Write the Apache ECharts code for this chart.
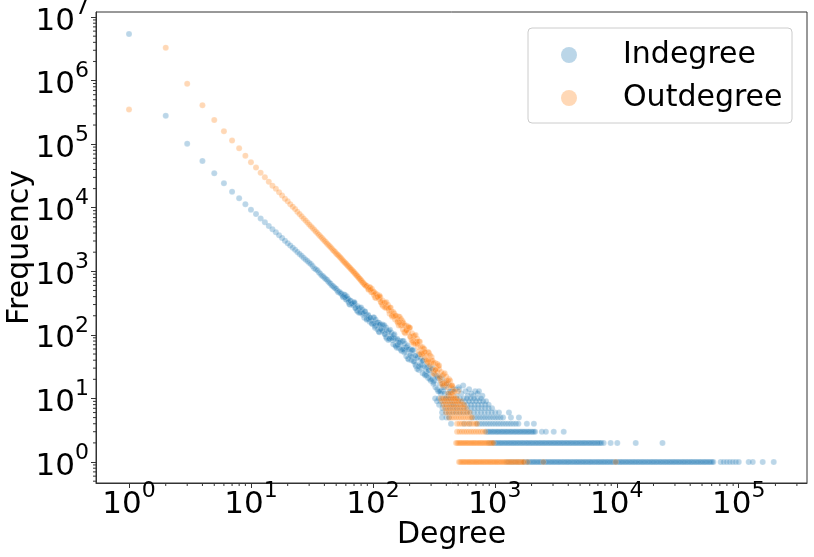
<!DOCTYPE html>
<html>
<head>
<meta charset="utf-8">
<script src="https://cdn.jsdelivr.net/npm/echarts@6/dist/echarts.min.js"></script>
<style>
html,body{margin:0;padding:0;background:#fff}
#main{width:814px;height:557px}
</style>
</head>
<body>
<div id="main"></div>
<script type="text/javascript">

// ---- Indegree (blue) ----
var inHead = [[1,5400000],[2,280000],[3,102000],[4,54500],[5,34900],[6,24300],[7,17900],[8,14100],[9,11400],[10,9300],
	[11,7950],[12,6800],[13,5890],[14,5180],[15,4590],[16,4100],[17,3690],[18,3340],[19,3030],[20,2770],
	[21,2550],[22,2350],[23,2180],[24,2020],[25,1880],[26,1750],[27,1640],[28,1540],[29,1450],[30,1360],
	[31,1300],[32,1210],[33,1120],[34,1080],[35,1040],[36,970],[37,915],[38,860],[39,835],[40,794],[41,760],[42,735],[43,690],[44,664],
	[45,640],[46,598],[47,585],[48,562],[49,540],[50,530],[51,500],[52,470],[53,478],[54,455]];
var inCloud = [[55,449],[57,390],[59,423],[61,361],[63,365],[65,299],[68,313],[70,316],[72,262],[75,234],
	[78,265],[80,230],[83,207],[86,234],[89,173],[92,198],[95,185],[99,148],[102,187],[106,142],
	[110,155],[113,110],[117,128],[122,138],[126,102],[130,88],[135,115],[140,94],[145,82],[150,102],
	[155,66],[160,82],[166,76],[172,56],[178,80],[184,56],[190,64],[197,41],[204,51],[211,57],
	[219,38],[226,32],[234,45],[243,35],[251,30],[260,40],[269,23],[279,31],[288,28],[298,19],
	[309,30],[320,19],[331,23],[343,13],[355,17],[367,20],[380,13],[394,10],[407,16],[422,12],
	[437,10],[452,14],[468,8],[484,11],
	[104,130],[112,155],[120,113],[128,131],[137,87],[147,90],[157,63],[168,80],[180,60],[193,68],
	[207,40],[222,47],[238,28],[255,39],[273,27],[292,32],[313,17],[335,22],[360,12],[385,15],
	[412,17],[442,10],[475,14],[510,14]];
var inCloudB = [[56,424],[58,431],[60,360],[62,372],[64,305],[66,340],[69,292],[71,317],[74,242],[76,262],
	[79,223],[82,249],[85,186],[88,207],[91,207],[94,161],[97,170],[101,188],[104,137],[108,156],
	[112,112],[115,147],[119,117],[124,142],[128,93],[133,110],[137,88],[142,108],[147,71],[152,86],
	[158,87],[163,62],[169,68],[175,80],[181,53],[187,64],[194,42],[201,60],[208,45],[215,58],
	[223,34],[230,43],[238,32],[247,43],[256,25],[265,32],[274,33],[284,21],[293,24],[304,30],
	[314,18],[325,23],[337,14],[349,21],[361,13],[374,17],[387,12],[400,17],[414,10],[429,13],[444,13],[460,9],
	[57,401],[59,390],[61,405],[63,329],[65,348],[67,310],[70,329],[72,265],[75,281],[77,222],
	[80,270],[83,220],[86,233],[89,178],[92,177],[95,186],[98,151],[102,151],[105,175],[109,122],
	[113,145],[116,123],[120,146],[125,103],[129,119],[134,83],[138,120],[143,89],[148,100],[153,68],
	[159,69],[164,76],[170,58],[176,59],[182,73],[188,46],[195,59],[202,48],[209,58],[216,38],
	[224,47],[231,29],[239,49],[248,33],[257,39],[266,24],[275,23],[285,28],[294,20],[305,20],
	[315,27],[326,15],[338,21],[350,13],[362,22],[375,15],[388,18],[401,10],[415,11],[430,13],[445,8],[461,14]];
var inSpread = [[505,15],[530,12],[550,16],[575,13],[600,11],[615,14],[640,12],[665,11],[690,13],[720,12],[741,13],[790,11]];
var inRow1 = [1250,1280,1310,1345,1380,1415,1450,1485,1520,1555,1590,1635,1680,1720,1760,1805,1850,1895,1940,1990,
	2040,2090,2140,2195,2250,2305,2360,2420,2480,2540,2600,2665,2730,2800,2870,2940,3010,3085,3160,3240,
	3320,3400,3480,3570,3660,3750,3840,3935,4030,4130,4230,4340,4450,4560,4670,4785,4900,5025,5150,5275,
	5400,5535,5670,5815,5960,6105,6250,6410,6570,6735,6900,7070,7240,7420,7600,7790,7980,8180,8380,8590,
	8800,9020,9240,9470,9700,9945,10190,10445,10700,10965,11230,11510,11790,12085,12380,12690,13000,13325,13650,13990,
	14330,14690,15050,15425,15800,16195,16590,17005,17420,17860,18300,18755,19210,19690,20170,20675,21180,21710,22240,22795,
	23350,23935,24520,25130,25740,26385,27030,27705,28380,29090,29800,30545,31290,32075,32860,33680,34500,35360,36220,37130,
	38040,38990,39940,40935,41930,42980,44030,45130,46230,47385,48540,49755,50970,52245,53520,54860,56200,57600,59000,60480,
	61950,71100,75300,79800,84400,89300,94500,100000,120700,130300,157300,193700];
var inRow2 = [895,917,940,963,987,1011,1036,1062,1088,1115,1142,1171,1200,1230,1260,1291,1323,1356,1389,1423,
	1458,1494,1531,1569,1608,1648,1688,1730,1773,1817,1861,1907,1954,2003,2052,2103,2155,2208,2262,2319,
	2376,2435,2494,2556,2619,2684,2750,2818,2887,2959,3032,3107,3183,3262,3342,3425,3510,3597,3685,3777,
	3869,3965,4063,4164,4266,4372,4479,4590,4703,4820,4938,5061,5185,5314,5444,5580,5717,5859,6002,6152,
	6303,6460,6618,6783,6949,7120,7296,7470,7800,8900,10100,14300,23700];
var inRow3 = [846,867,888,910,933,956,980,1004,1029,1054,1080,1107,1134,1162,1191,1220,1250,1281,1313,1345,
	1378,1412,1447,1483,1520,1557,1596,1635,1675,1717,1759,1803,1847,1893,1940,1988,2037,2088,2140,2430,2620,3040,3670];
var inRow4 = [437,560,620,714,750,787,827,868,911,957,1005,1055,1108,1163,1221,1282,1346,1414,1485,1559,1830,2090];
var inRow5 = [369,400,421,650,683,717,753,790,830,871,915,961,1009,1059,1112,1168,1355,1575];
var inRow6 = [369,395,422,451,482,515,551,589,630,673,720,770,823,880,940,1005,1081,1305];
var inRow7 = [372,398,425,455,486,520,556,594,635,679,726,776,830,887,948];
var inRow8 = [349,373,399,427,456,488,521,557,596,637,681,728,778,832,889];
var inRow9 = [336,359,384,411,439,469,502,536,573,613,655,700,749,800,846];
var inRow10 = [324,346,370,396,423,452,483,517,552,590,631,675,721,771];

// ---- Outdegree (orange) ----
var outHead = [[1,350000],[2,3300000],[3,890000],[4,410000],[5,240000],[6,160000],[7,114000],[8,86000],[9,66000],[10,52000],
	[11,42800],[12,35600],[13,30200],[14,25700],[15,22200],[16,19900],[17,17500],[18,15600],[19,13900],[20,12600],
	[21,11400],[22,10400],[23,9520],[24,8650],[25,7960],[26,7330],[27,6770],[28,6310],[29,5860],[30,5470],
	[31,5110],[32,4790],[33,4490],[34,4230],[35,3990],[36,3770],[37,3560],[38,3370],[39,3190],[40,3030],[41,2880],[42,2750],[43,2610],[44,2500],
	[45,2390],[46,2290],[47,2170],[48,2090],[49,2010],[50,1915],[51,1840],[52,1790],[53,1710],[54,1650],[55,1585],[56,1520],[57,1470],[58,1420],
	[59,1365],[60,1330],[61,1280],[62,1235],[63,1200],[64,1160],[65,1125],[66,1085],[67,1060],[68,1020],[69,995],[70,964],
	[71,930],[72,910],[73,875],[74,860],[75,830],[76,810],[77,780],[78,765],[79,735],[80,722],[81,700],[82,676],[83,668],[84,640],
	[85,630],[86,612],[87,603],[88,580]];
var outCloud = [[89,592],[92,512],[95,552],[99,469],[102,470],[106,380],[110,394],[113,394],[117,324],[121,286],
	[126,321],[130,274],[135,242],[140,267],[144,193],[150,216],[155,198],[160,155],[166,192],[172,143],
	[178,153],[184,106],[190,121],[197,128],[204,92],[211,77],[219,97],[226,77],[234,65],[243,78],
	[251,49],[260,60],[269,53],[279,38],[288,52],[298,36],[309,39],[320,24],[331,30],[343,32],
	[355,21],[367,17],[380,24],[394,18],[407,15],[422,20],[437,11],[452,15],[468,13],[484,9],[501,13],
	[163,140],[175,165],[187,116],[200,130],[215,79],[230,78],[247,49],[264,60],[283,37],[303,45],
	[325,28],[349,29],[374,17],[400,19],[430,19],[460,11],[445,16]];
var outCloudB = [[91,557],[94,565],[97,468],[101,482],[104,389],[108,432],[112,366],[115,393],[119,297],[124,318],
	[128,268],[133,294],[137,215],[142,234],[147,229],[152,174],[158,180],[163,195],[169,140],[175,156],
	[181,110],[187,141],[194,109],[201,130],[208,82],[215,95],[223,73],[230,87],[238,55],[247,65],
	[256,64],[265,44],[274,47],[284,54],[293,34],[304,40],[314,25],[325,36],[337,26],[349,33],
	[361,19],[374,23],[387,17],[400,22],[414,12],[429,16],[444,16],[460,10],
	[92,527],[95,511],[98,530],[102,426],[105,447],[109,394],[113,416],[116,329],[120,346],[125,270],
	[129,325],[134,259],[138,269],[143,201],[148,196],[153,202],[159,161],[164,157],[170,178],[176,122],
	[182,142],[188,118],[195,136],[202,94],[209,106],[216,72],[224,100],[231,72],[239,79],[248,52],
	[257,51],[266,54],[275,40],[285,40],[294,48],[305,29],[315,36],[326,28],[338,35],[350,22],
	[362,26],[375,16],[388,25],[401,17],[415,19],[430,12],[445,12],[461,13]];
var outRow1 = [509,520,532,544,556,568,581,594,607,620,634,648,663,678,693,708,724,740,756,773,790,808,826,844,863,882,902,922,943,964,
	985,1007,1029,1052,1076,1100,1124,1150,1175,1201,1227,1255,1283,1311,1340,1370,1401,1432,1464,1497,1530,1564,1598,1634,1670,1700,1730,
	1850,2500,9800];
var outRow2 = [481,492,503,514,525,537,549,561,574,587,600,613,627,641,655,669,684,699,715,731,747,764,781,798,816,834,853,872,891,911,931,952,973];
var outRow3 = [490,512,535,559,584,611,638,667,697,728,761,795,831];
var outRow4 = [490,512,535,559,584,611,638,667,697,714];
var outRow5 = [421,440,460,481,503,525,549,574,600,627,650];
var outRow6 = [398,416,435,455,475,497,519,542,567,592,620];
var outRow7 = [390,408,426,445,465,486,508,531,555,580];
var outRow8 = [380,397,415,434,453,474,495,517,541,560];
var outRow9 = [370,387,404,422,441,461,482,504,527];
var outRow10 = [360,376,393,411,429,449,469,490];

// axis ranges and minor ticks
var xMinorBase = [1, 10, 100, 1000, 10000, 100000];
var yMinorBase = [0.1, 1, 10, 100, 1000, 10000, 100000, 1000000];
var minorMult = [2, 3, 4, 5, 6, 7, 8, 9];
var xMin = 0.536, xMax = 363000;
var yMin = 0.468, yMax = 12000000;

function row(degs, f) {
	return degs.map(function (d) { return [d, f]; });
}

var inData = inHead.concat(inCloud, inCloudB, inSpread,
	row(inRow1, 1), row(inRow2, 2), row(inRow3, 3), row(inRow4, 4), row(inRow5, 5),
	row(inRow6, 6), row(inRow7, 7), row(inRow8, 8), row(inRow9, 9), row(inRow10, 10));
var outData = outHead.concat(outCloud, outCloudB,
	row(outRow1, 1), row(outRow2, 2), row(outRow3, 3), row(outRow4, 4), row(outRow5, 5),
	row(outRow6, 6), row(outRow7, 7), row(outRow8, 8), row(outRow9, 9), row(outRow10, 10));

function powLabel(v) {
	var e = Math.round(Math.log(v) / Math.LN10);
	return '{b|10}{s|' + e + '}';
}
var rich = {
	b: { fontSize: 31, fontFamily: 'DejaVu Sans', color: '#000', lineHeight: 40, verticalAlign: 'bottom' },
	s: { fontSize: 22, fontFamily: 'DejaVu Sans', color: '#000', lineHeight: 24, verticalAlign: 'top' }
};

var myChart = echarts.init(document.getElementById('main'));
var option = {
	animation: false,
	backgroundColor: '#fff',
	textStyle: { fontFamily: 'DejaVu Sans' },
	grid: { left: 96, right: 7, top: 12, bottom: 74, show: true, borderColor: '#333', borderWidth: 1,
		containLabel: false, outerBoundsMode: 'none' },
	legend: {
		orient: 'vertical',
		left: 561,
		top: 40,
		padding: 0,
		itemGap: 13,
		itemWidth: 16,
		itemHeight: 16,
		icon: 'circle',
		z: 20,
		formatter: function (name) { return '{t|' + name + '}'; },
		textStyle: {
			fontSize: 30, color: '#000', fontFamily: 'DejaVu Sans', lineHeight: 30,
			rich: { t: { fontSize: 30, color: '#000', fontFamily: 'DejaVu Sans', lineHeight: 30, padding: [0, 0, 0, 41] } }
		},
		data: [
			{ name: 'Indegree', itemStyle: { color: 'rgba(31,119,180,0.3)', borderWidth: 0, opacity: 1 } },
			{ name: 'Outdegree', itemStyle: { color: 'rgba(255,127,14,0.3)', borderWidth: 0, opacity: 1 } }
		]
	},
	xAxis: {
		type: 'log',
		logBase: 10,
		min: xMin,
		max: xMax,
		name: 'Degree',
		nameLocation: 'middle',
		nameGap: 37,
		nameMoveOverlap: false,
		nameTextStyle: { fontSize: 30, color: '#000', fontFamily: 'DejaVu Sans' },
		axisLine: { show: true, lineStyle: { color: '#333', width: 1 } },
		axisTick: { show: true, length: 5, lineStyle: { color: '#333' } },
		splitLine: { show: false },
		axisLabel: { showMinLabel: false, showMaxLabel: false, margin: -3, formatter: powLabel, rich: rich }
	},
	yAxis: {
		type: 'log',
		logBase: 10,
		min: yMin,
		max: yMax,
		name: 'Frequency',
		nameLocation: 'middle',
		nameGap: 61,
		nameMoveOverlap: false,
		nameTextStyle: { fontSize: 30, color: '#000', fontFamily: 'DejaVu Sans' },
		axisLine: { show: true, lineStyle: { color: '#333', width: 1 } },
		axisTick: { show: true, length: 5, lineStyle: { color: '#333' } },
		splitLine: { show: false },
		axisLabel: { showMinLabel: false, showMaxLabel: false, margin: 7, formatter: powLabel, rich: rich }
	},
	series: [
		{
			name: 'Indegree',
			type: 'scatter',
			data: inData,
			symbol: 'circle',
			symbolSize: 6,
			z: 2,
			itemStyle: { color: '#1f77b4', opacity: 0.3, borderColor: '#ffffff', borderWidth: 0.5 },
			emphasis: { disabled: true }
		},
		{
			name: 'Outdegree',
			type: 'scatter',
			data: outData,
			symbol: 'circle',
			symbolSize: 6,
			z: 3,
			itemStyle: { color: '#ff7f0e', opacity: 0.3, borderColor: '#ffffff', borderWidth: 0.5 },
			emphasis: { disabled: true }
		}
	]
};
myChart.setOption(option);

// minor ticks (log spaced), placed through the chart's own axes
var corner = myChart.convertToPixel({ gridIndex: 0 }, [xMin, yMin]);
var graphics = [];
xMinorBase.forEach(function (b) {
	minorMult.forEach(function (m) {
		var v = b * m;
		if (v > xMin && v < xMax) {
			var px = myChart.convertToPixel({ xAxisIndex: 0 }, v);
			graphics.push({ type: 'line', z: 5, shape: { x1: px, y1: corner[1], x2: px, y2: corner[1] + 3 }, style: { stroke: '#333', lineWidth: 1 } });
		}
	});
});
yMinorBase.forEach(function (b) {
	minorMult.forEach(function (m) {
		var v = b * m;
		if (v > yMin && v < yMax) {
			var py = myChart.convertToPixel({ yAxisIndex: 0 }, v);
			graphics.push({ type: 'line', z: 5, shape: { x1: corner[0] - 3, y1: py, x2: corner[0], y2: py }, style: { stroke: '#333', lineWidth: 1 } });
		}
	});
});
// legend frame
graphics.push({ type: 'rect', z: 15, shape: { x: 528, y: 28, width: 264, height: 95, r: 4 }, style: { fill: 'rgba(255,255,255,0.8)', stroke: '#cccccc', lineWidth: 1 } });
myChart.setOption({ graphic: graphics });

</script>
</body>
</html>
